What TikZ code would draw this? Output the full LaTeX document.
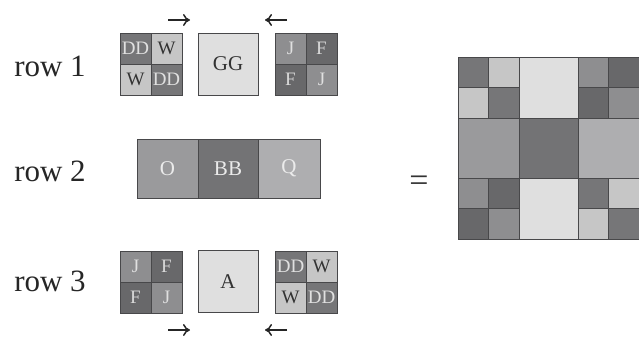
\documentclass[tikz,border=0pt]{standalone}
\usepackage{fontspec}
\setmainfont{Liberation Serif}
\usetikzlibrary{arrows.meta}
\definecolor{cell-line}{HTML}{48484A}
\definecolor{dd-grey}{HTML}{767678}
\definecolor{w-grey}{HTML}{C6C6C6}
\definecolor{j-grey}{HTML}{8E8E90}
\definecolor{f-grey}{HTML}{68686A}
\definecolor{pale-grey}{HTML}{DFDFDF}
\definecolor{o-grey}{HTML}{9A9A9C}
\definecolor{bb-grey}{HTML}{737375}
\definecolor{q-grey}{HTML}{AEAEB0}
\tikzset{
    cell-box/.style = {draw=cell-line, line width=0.9pt, rectangle, inner sep=0pt, minimum width=31pt, minimum height=31pt, font=\fontsize{19}{19}\selectfont},
    wide-box/.style = {cell-box, minimum width=60pt, minimum height=62pt, fill=pale-grey, text=black!80, font=\fontsize{21}{21}\selectfont},
    band-box/.style = {cell-box, minimum height=59pt, text=white!92!black, font=\fontsize{21}{21}\selectfont},
    dd-cell/.style = {cell-box, fill=dd-grey, text=white!88!black},
    w-cell/.style = {cell-box, fill=w-grey, text=black!80},
    j-cell/.style = {cell-box, fill=j-grey, text=white!88!black},
    f-cell/.style = {cell-box, fill=f-grey, text=white!85!black},
    row-label/.style = {font=\fontsize{31}{31}\selectfont, text=black!85},
    shift-arrow/.style = {-{To[length=7pt,width=12pt]}, line width=1.5pt, black!85},
}

\begin{document}
\begin{tikzpicture}[x=1pt, y=-1pt]
\useasboundingbox (0,0) rectangle (639,340);
\node[row-label] (label1) at (50,66) {row 1};
\node[row-label] (label2) at (50,171) {row 2};
\node[row-label] (label3) at (50,281) {row 3};

\node[dd-cell] (r1a) at (135.5,48.5) {DD};
\node[w-cell] (r1b) at (166.5,48.5) {W};
\node[w-cell] (r1c) at (135.5,79.5) {W};
\node[dd-cell] (r1d) at (166.5,79.5) {DD};
\node[wide-box] (gg) at (228,64) {GG};
\node[j-cell] (r1e) at (290.5,48.5) {J};
\node[f-cell] (r1f) at (321.5,48.5) {F};
\node[f-cell] (r1g) at (290.5,79.5) {F};
\node[j-cell] (r1h) at (321.5,79.5) {J};

\node[band-box, minimum width=61pt, fill=o-grey] (o) at (167.5,168.5) {O};
\node[band-box, minimum width=60pt, fill=bb-grey] (bb) at (228,168.5) {BB};
\node[band-box, minimum width=62pt, fill=q-grey] (q) at (289,168.5) {Q};

\node[j-cell] (r3a) at (135.5,266.5) {J};
\node[f-cell] (r3b) at (166.5,266.5) {F};
\node[f-cell] (r3c) at (135.5,297.5) {F};
\node[j-cell] (r3d) at (166.5,297.5) {J};
\node[wide-box] (a) at (228,281.5) {A};
\node[dd-cell] (r3e) at (290.5,266.5) {DD};
\node[w-cell] (r3f) at (321.5,266.5) {W};
\node[w-cell] (r3g) at (290.5,297.5) {W};
\node[dd-cell] (r3h) at (321.5,297.5) {DD};

\coordinate (in1l) at (168,20);
\coordinate (in1r) at (190,20);
\coordinate (in2l) at (265,20);
\coordinate (in2r) at (287,20);
\coordinate (in3l) at (168,330);
\coordinate (in3r) at (190,330);
\coordinate (in4l) at (265,330);
\coordinate (in4r) at (287,330);
\draw[shift-arrow] (in1l) -- (in1r);
\draw[shift-arrow] (in2r) -- (in2l);
\draw[shift-arrow] (in3l) -- (in3r);
\draw[shift-arrow] (in4r) -- (in4l);

\node[font=\fontsize{34}{34}\selectfont, text=black!80] (equals) at (419,184) {=};

\node[cell-box, minimum width=30.5pt, minimum height=30.5pt, fill=dd-grey] (m11) at (473.25,72.25) {};
\node[cell-box, minimum width=30.5pt, minimum height=30.5pt, fill=w-grey] (m12) at (503.75,72.25) {};
\node[cell-box, minimum width=30.5pt, minimum height=30.5pt, fill=w-grey] (m21) at (473.25,102.75) {};
\node[cell-box, minimum width=30.5pt, minimum height=30.5pt, fill=dd-grey] (m22) at (503.75,102.75) {};
\node[cell-box, minimum width=59pt, minimum height=61pt, fill=pale-grey] (mgg) at (548.5,87.5) {};
\node[cell-box, minimum width=30.5pt, minimum height=30.5pt, fill=j-grey] (m15) at (593.25,72.25) {};
\node[cell-box, minimum width=30.5pt, minimum height=30.5pt, fill=f-grey] (m16) at (623.75,72.25) {};
\node[cell-box, minimum width=30.5pt, minimum height=30.5pt, fill=f-grey] (m25) at (593.25,102.75) {};
\node[cell-box, minimum width=30.5pt, minimum height=30.5pt, fill=j-grey] (m26) at (623.75,102.75) {};
\node[cell-box, minimum width=61pt, minimum height=60pt, fill=o-grey] (mo) at (488.5,148) {};
\node[cell-box, minimum width=59pt, minimum height=60pt, fill=bb-grey] (mbb) at (548.5,148) {};
\node[cell-box, minimum width=61pt, minimum height=60pt, fill=q-grey] (mq) at (608.5,148) {};
\node[cell-box, minimum width=30.5pt, minimum height=30.5pt, fill=j-grey] (m51) at (473.25,193.25) {};
\node[cell-box, minimum width=30.5pt, minimum height=30.5pt, fill=f-grey] (m52) at (503.75,193.25) {};
\node[cell-box, minimum width=30.5pt, minimum height=30.5pt, fill=f-grey] (m61) at (473.25,223.75) {};
\node[cell-box, minimum width=30.5pt, minimum height=30.5pt, fill=j-grey] (m62) at (503.75,223.75) {};
\node[cell-box, minimum width=59pt, minimum height=61pt, fill=pale-grey] (ma) at (548.5,208.5) {};
\node[cell-box, minimum width=30.5pt, minimum height=30.5pt, fill=dd-grey] (m55) at (593.25,193.25) {};
\node[cell-box, minimum width=30.5pt, minimum height=30.5pt, fill=w-grey] (m56) at (623.75,193.25) {};
\node[cell-box, minimum width=30.5pt, minimum height=30.5pt, fill=w-grey] (m65) at (593.25,223.75) {};
\node[cell-box, minimum width=30.5pt, minimum height=30.5pt, fill=dd-grey] (m66) at (623.75,223.75) {};
\end{tikzpicture}
\end{document}
